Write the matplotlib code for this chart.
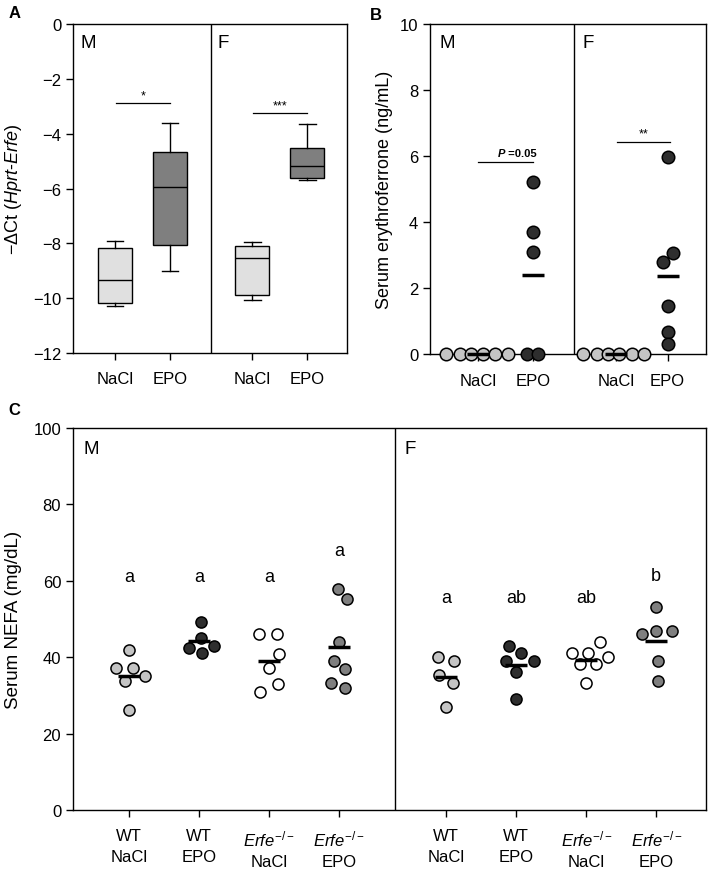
import numpy as np
import matplotlib.pyplot as plt

plt.rcParams['font.family'] = ['Liberation Sans', 'DejaVu Sans']
plt.rcParams['mathtext.fontset'] = 'custom'
plt.rcParams['mathtext.rm'] = 'Liberation Sans'
plt.rcParams['mathtext.it'] = 'Liberation Sans:italic'
plt.rcParams['mathtext.bf'] = 'Liberation Sans:bold'
plt.rcParams['axes.linewidth'] = 1.0
plt.rcParams['xtick.direction'] = 'out'
plt.rcParams['ytick.direction'] = 'out'

# ---- panel A: -dCt box summaries (M NaCl, M EPO, F NaCl, F EPO)
a_whislo = [-10.3, -9.02, -10.07, -5.69]
a_q1 = [-10.18, -8.06, -9.9, -5.62]
a_med = [-9.32, -5.93, -8.53, -5.19]
a_q3 = [-8.18, -4.66, -8.08, -4.51]
a_whishi = [-7.91, -3.61, -7.96, -3.63]
a_ticklabels = ['NaCl', 'EPO', 'NaCl', 'EPO']

# ---- panel B: serum erythroferrone (ng/mL)
b_m_nacl = [0, 0, 0, 0, 0, 0]
b_m_epo = [5.2, 3.7, 3.1, 0, 0]
b_f_nacl = [0, 0, 0, 0, 0, 0]
b_f_epo = [5.97, 3.05, 2.78, 1.44, 0.68, 0.3]

# ---- panel C: serum NEFA (mg/dL)
c_m_wt_nacl = [42.0, 37.1, 37.1, 33.9, 35.0, 26.1]
c_m_wt_epo = [49.1, 45.1, 42.3, 43.0, 41.1]
c_m_ko_nacl = [46.0, 46.0, 40.9, 37.1, 33.1, 31.0]
c_m_ko_epo = [57.9, 55.2, 44.1, 39.1, 36.9, 33.2, 32.0]
c_f_wt_nacl = [40.0, 39.1, 35.3, 33.2, 26.9]
c_f_wt_epo = [43.0, 41.1, 39.1, 39.1, 36.0, 29.1]
c_f_ko_nacl = [44.1, 41.1, 41.1, 40.0, 38.1, 38.1, 33.2]
c_f_ko_epo = [53.1, 46.1, 46.9, 46.9, 39.1, 33.8]
c_letters = ['a', 'a', 'a', 'a', 'a', 'ab', 'ab', 'b']
c_letter_y = [61, 61, 61, 68, 55.5, 55.5, 55.5, 61.5]
c_ticklabels = ['WT\nNaCl', 'WT\nEPO', '$\\it{Erfe}^{-/-}$\nNaCl', '$\\it{Erfe}^{-/-}$\nEPO'] * 2

light = '#c4c4c4'
dark = '#2e2e2e'
mid = '#7f7f7f'
W, H = 709, 870

fig = plt.figure(figsize=(W / 100, H / 100), dpi=100)


def rect(l, r, t, b):
    return [l / W, (H - b) / H, (r - l) / W, (b - t) / H]


def dots(ax, pos, vals, offs, color, ms, lw_mean, half):
    ax.plot(np.array(offs) + pos, vals, 'o', ms=ms, mfc=color, mec='black',
            mew=1.1, clip_on=False, zorder=4)
    m = np.mean(vals)
    ax.plot([pos - half, pos + half], [m, m], color='black', lw=lw_mean,
            solid_capstyle='butt', zorder=5, clip_on=False)


# ================= A
axA = fig.add_axes(rect(73, 347, 25, 354))
posA = [0, 1, 2.5, 3.5]
stats = []
for i in range(4):
    stats.append(dict(whislo=a_whislo[i], q1=a_q1[i], med=a_med[i],
                      q3=a_q3[i], whishi=a_whishi[i], fliers=[]))
bp = axA.bxp(stats, positions=posA, widths=0.62, patch_artist=True,
             showfliers=False, capwidths=0.3,
             medianprops=dict(color='black', lw=1),
             whiskerprops=dict(color='black', lw=1),
             capprops=dict(color='black', lw=1),
             boxprops=dict(edgecolor='black', lw=1))
for patch, c in zip(bp['boxes'], ['#e0e0e0', mid, '#e0e0e0', mid]):
    patch.set_facecolor(c)
axA.set_xlim(-0.76, 4.22)
axA.set_ylim(-12, 0)
axA.axvline(1.745, color='black', lw=1)
axA.set_yticks(np.arange(-12, 1, 2))
axA.set_yticklabels(['\u221212', '\u221210', '\u22128', '\u22126', '\u22124', '\u22122', '0'])
axA.set_xticks(posA)
axA.set_xticklabels(a_ticklabels)
axA.tick_params(axis='both', labelsize=12, length=5, width=1)
axA.tick_params(axis='x', pad=8)
axA.set_ylabel('\u2212\u0394Ct ($\\it{Hprt}$-$\\it{Erfe}$)', fontsize=13)
axA.yaxis.set_label_coords(-0.18, 0.5)
axA.plot([0.02, 1.0], [-2.89, -2.89], color='black', lw=0.9)
axA.text(0.51, -2.82, '*', ha='center', va='bottom', fontsize=9)
axA.plot([2.52, 3.5], [-3.26, -3.26], color='black', lw=0.9)
axA.text(3.01, -3.19, '***', ha='center', va='bottom', fontsize=9)
axA.text(0.026, 0.97, 'M', transform=axA.transAxes, ha='left', va='top', fontsize=13.5)
axA.text(0.526, 0.97, 'F', transform=axA.transAxes, ha='left', va='top', fontsize=13.5)

# ================= B
axB = fig.add_axes(rect(430, 706, 25, 355))
off6 = [-0.57, -0.33, -0.13, 0.1, 0.32, 0.55]
dots(axB, 0, b_m_nacl, off6, light, 9, 2.5, 0.2)
dots(axB, 1, b_m_epo, [0, 0, 0, -0.11, 0.1], dark, 9, 2.5, 0.2)
dots(axB, 2.52, b_f_nacl, [-0.6, -0.36, -0.16, 0.05, 0.29, 0.51], light, 9, 2.5, 0.2)
dots(axB, 3.45, b_f_epo, [0, 0.1, -0.08, 0, 0, 0], dark, 9, 2.5, 0.2)
axB.set_xlim(-0.87, 4.15)
axB.set_ylim(0, 10)
axB.axvline(1.745, color='black', lw=1)
axB.set_yticks(np.arange(0, 11, 2))
axB.set_xticks([0, 1, 2.52, 3.45])
axB.set_xticklabels(['NaCl', 'EPO', 'NaCl', 'EPO'])
axB.tick_params(axis='both', labelsize=12, length=5, width=1)
axB.tick_params(axis='x', pad=9)
axB.set_ylabel('Serum erythroferrone (ng/mL)', fontsize=13)
axB.yaxis.set_label_coords(-0.135, 0.5)
axB.plot([0, 1], [5.83, 5.83], color='black', lw=0.9)
axB.text(0.5, 5.93, 'P', ha='right', va='bottom', fontsize=8, fontweight='bold', style='italic')
axB.text(0.5, 5.93, ' =0.05', ha='left', va='bottom', fontsize=8, fontweight='bold')
axB.plot([2.54, 3.5], [6.41, 6.41], color='black', lw=0.9)
axB.text(3.02, 6.5, '**', ha='center', va='bottom', fontsize=9)
axB.text(0.036, 0.97, 'M', transform=axB.transAxes, ha='left', va='top', fontsize=13.5)
axB.text(0.551, 0.97, 'F', transform=axB.transAxes, ha='left', va='top', fontsize=13.5)

# ================= C
axC = fig.add_axes(rect(73, 706, 429, 811))
posC = [0, 1, 2, 3, 4.53, 5.53, 6.53, 7.53]
groups = [c_m_wt_nacl, c_m_wt_epo, c_m_ko_nacl, c_m_ko_epo,
          c_f_wt_nacl, c_f_wt_epo, c_f_ko_nacl, c_f_ko_epo]
offsC = [[0, -0.19, 0.05, -0.06, 0.23, 0],
         [0.03, 0.03, -0.15, 0.22, 0.04],
         [-0.14, 0.12, 0.14, 0, 0.13, -0.13],
         [-0.02, 0.12, 0, -0.07, 0.09, -0.11, 0.09],
         [-0.12, 0.11, -0.11, 0.09, 0],
         [-0.1, 0.07, -0.14, 0.25, 0, 0],
         [0.19, -0.2, 0.03, 0.31, -0.09, 0.14, 0],
         [0, -0.21, 0, 0.23, 0.03, 0.03]]
colsC = [light, dark, 'white', mid] * 2
for p, g, o, c in zip(posC, groups, offsC, colsC):
    dots(axC, p, g, o, c, 8, 2.5, 0.16)
for p, t, y in zip(posC, c_letters, c_letter_y):
    axC.text(p, y, t, ha='center', va='center', fontsize=13)
axC.set_xlim(-0.8, 8.24)
axC.set_ylim(0, 100)
axC.axvline(3.8, color='black', lw=1)
axC.set_yticks(np.arange(0, 101, 20))
axC.set_xticks(posC)
axC.set_xticklabels(c_ticklabels, linespacing=1.5)
axC.tick_params(axis='both', labelsize=12, length=5, width=1)
axC.tick_params(axis='x', pad=8)
axC.set_ylabel('Serum NEFA (mg/dL)', fontsize=13.5)
axC.yaxis.set_label_coords(-0.08, 0.5)
axC.text(0.016, 0.969, 'M', transform=axC.transAxes, ha='left', va='top', fontsize=13.5)
axC.text(0.524, 0.969, 'F', transform=axC.transAxes, ha='left', va='top', fontsize=13.5)

# panel letters
fig.text(15 / W, 1 - 13 / H, 'A', fontsize=12, fontweight='bold', ha='center', va='center')
fig.text(376 / W, 1 - 15 / H, 'B', fontsize=12, fontweight='bold', ha='center', va='center')
fig.text(14 / W, 1 - 411 / H, 'C', fontsize=12, fontweight='bold', ha='center', va='center')

fig.savefig('out.png', dpi=100)
